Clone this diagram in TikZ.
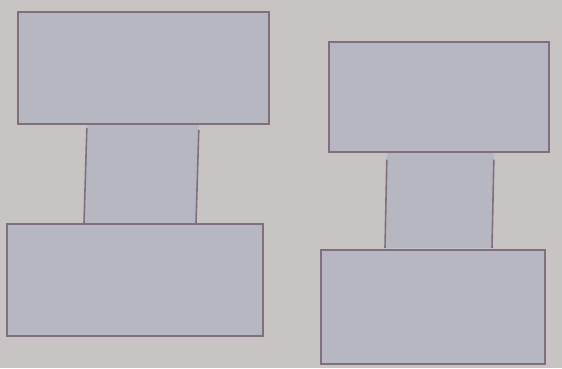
\documentclass[tikz,border=0pt]{standalone}
\usetikzlibrary{calc}
\begin{document}
\begin{tikzpicture}[x=1bp,y=-1bp,
  bg/.style={fill={rgb,255:red,200;green,196;blue,196}},
  boxfill/.style={fill={rgb,255:red,182;green,183;blue,192}},
  edge/.style={draw={rgb,255:red,128;green,112;blue,126},line width=1.6bp},
  block/.style={boxfill,edge}]
\path[bg] (0,0) rectangle (562,368);
\useasboundingbox (0,0) rectangle (562,368);
% left figure
\coordinate (lsA1) at (87,123);
\coordinate (lsA2) at (84,223);
\coordinate (lsB1) at (199,123);
\coordinate (lsB2) at (196,223);
\fill[boxfill] (lsA1) -- (lsB1) -- (lsB2) -- (lsA2) -- cycle;
\draw[edge] ($(lsA1)!0.05!(lsA2)$) -- (lsA2);
\draw[edge] ($(lsB1)!0.07!(lsB2)$) -- (lsB2);
\node[block,minimum width=251bp,minimum height=112bp,inner sep=0pt,anchor=north west] (ltop) at (17,11) {};
\node[block,minimum width=256bp,minimum height=112bp,inner sep=0pt,anchor=north west] (lbot) at (6,223) {};
% right figure
\coordinate (rsA1) at (387,151);
\coordinate (rsA2) at (385,248);
\coordinate (rsB1) at (494,151);
\coordinate (rsB2) at (492,248);
\fill[boxfill] (rsA1) -- (rsB1) -- (rsB2) -- (rsA2) -- cycle;
\draw[edge] ($(rsA1)!0.09!(rsA2)$) -- (rsA2);
\draw[edge] ($(rsB1)!0.09!(rsB2)$) -- (rsB2);
\node[block,minimum width=220bp,minimum height=110bp,inner sep=0pt,anchor=north west] (rtop) at (328,41) {};
\node[block,minimum width=224bp,minimum height=114bp,inner sep=0pt,anchor=north west] (rbot) at (320,249) {};
\end{tikzpicture}
\end{document}
